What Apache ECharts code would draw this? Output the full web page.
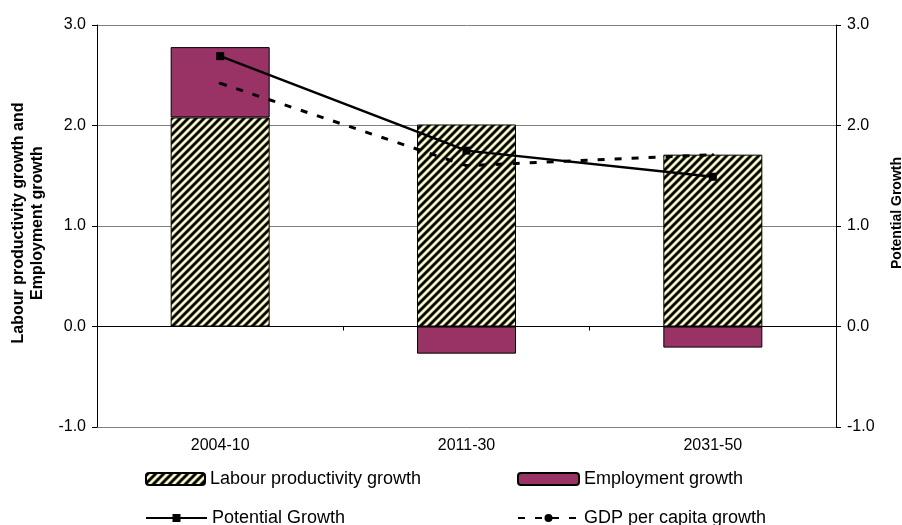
<!DOCTYPE html>
<html>
<head>
<meta charset="utf-8">
<script src="https://cdn.jsdelivr.net/npm/echarts@6/dist/echarts.min.js"></script>
<style>
  html, body { margin: 0; padding: 0; background: #fff; }
  #chart { width: 902px; height: 525px; }
</style>
</head>
<body>
<div id="chart"></div>
<script>
// Periods on the category axis
const periods = ['2004-10', '2011-30', '2031-50'];

// Stacked bar components (left axis, % per year)
const labourProductivity = [2.08, 2.01, 1.71];
const employment = [0.70, -0.27, -0.21];

// Line series (right axis, % per year)
const potentialGrowth = [2.69, 1.75, 1.49];
const gdpPerCapita = [2.42, 1.60, 1.71];

// Shared value-axis ticks
const axisMin = -1;
const axisMax = 3;
const axisStep = 1;

const FONT = "'Liberation Sans', Arial, sans-serif";

// Diagonal black-on-cream hatching for the productivity bars
function makeHatch() {
  const size = 8;
  // shade per diagonal step: black band with soft edges, then cream band
  const shades = [
    [50, 50, 40], [0, 0, 0], [0, 0, 0], [50, 50, 40],
    [190, 190, 150], [255, 255, 204], [255, 255, 204], [190, 190, 150]
  ];
  const c = document.createElement('canvas');
  c.width = size; c.height = size;
  const ctx = c.getContext('2d');
  const img = ctx.createImageData(size, size);
  for (let y = 0; y < size; y++) {
    for (let x = 0; x < size; x++) {
      const s = shades[(x + y) % size];
      const i = (y * size + x) * 4;
      img.data[i] = s[0]; img.data[i + 1] = s[1]; img.data[i + 2] = s[2]; img.data[i + 3] = 255;
    }
  }
  ctx.putImageData(img, 0, 0);
  return { image: c, repeat: 'repeat' };
}
const hatch = makeHatch();

const chart = echarts.init(document.getElementById('chart'), null, { renderer: 'canvas' });

const legendBase = {
  orient: 'horizontal',
  padding: 0,
  itemGap: 0,
  textStyle: { fontFamily: FONT, fontSize: 18, color: '#000' }
};

const option = {
  animation: false,
  backgroundColor: '#fff',
  grid: { left: 97, right: 66, top: 25, bottom: 98, outerBoundsMode: 'none' },
  legend: [
    Object.assign({}, legendBase, { data: ['Labour productivity growth'], left: 145, top: 470, itemWidth: 59, itemHeight: 12 }),
    Object.assign({}, legendBase, { data: ['Employment growth'], left: 517, top: 470, itemWidth: 61, itemHeight: 12 }),
    Object.assign({}, legendBase, { data: ['Potential Growth'], left: 145, top: 509, itemWidth: 61, itemHeight: 10 }),
    Object.assign({}, legendBase, { data: ['GDP per capita growth'], left: 517, top: 509, itemWidth: 61, itemHeight: 10 })
  ],
  xAxis: [
    {
      type: 'category',
      data: periods,
      position: 'bottom',
      axisLine: { show: false, onZero: false },
      axisTick: { show: false },
      axisLabel: { fontFamily: FONT, fontSize: 16, color: '#000', margin: 11 }
    },
    {
      type: 'category',
      data: periods,
      position: 'bottom',
      axisLine: { show: true, onZero: true, lineStyle: { color: '#000', width: 1 } },
      axisTick: { show: true, length: 4, lineStyle: { color: '#000' } },
      axisLabel: { show: false },
      splitLine: { show: false }
    }
  ],
  yAxis: [
    {
      type: 'value',
      min: axisMin, max: axisMax, interval: axisStep,
      position: 'left',
      name: 'Labour productivity growth and\nEmployment growth',
      nameLocation: 'middle',
      nameGap: 50,
      nameRotate: 90,
      nameTextStyle: { fontFamily: FONT, fontSize: 16, fontWeight: 'bold', color: '#000', lineHeight: 19, padding: [0, 0, 0, 6] },
      axisLine: { show: true, lineStyle: { color: '#000', width: 1 } },
      axisTick: { show: true, length: 5, lineStyle: { color: '#000' } },
      axisLabel: { fontFamily: FONT, fontSize: 16, color: '#000', margin: 11, formatter: v => v.toFixed(1) },
      splitLine: { show: true, lineStyle: { color: '#808080', width: 1 } }
    },
    {
      type: 'value',
      min: axisMin, max: axisMax, interval: axisStep,
      position: 'right',
      name: 'Potential Growth',
      nameLocation: 'middle',
      nameGap: 54,
      nameRotate: 90,
      nameTextStyle: { fontFamily: FONT, fontSize: 14, fontWeight: 'bold', color: '#000', padding: [0, 0, 0, 26] },
      axisLine: { show: true, lineStyle: { color: '#000', width: 1 } },
      axisTick: { show: true, length: 5, lineStyle: { color: '#000' } },
      axisLabel: { fontFamily: FONT, fontSize: 16, color: '#000', margin: 11, formatter: v => v.toFixed(1) },
      splitLine: { show: false }
    }
  ],
  series: [
    {
      name: 'Labour productivity growth',
      type: 'bar',
      stack: 'growth',
      xAxisIndex: 0, yAxisIndex: 0,
      barWidth: 99,
      data: labourProductivity,
      itemStyle: { color: hatch, borderColor: '#000', borderWidth: 1 }
    },
    {
      name: 'Employment growth',
      type: 'bar',
      stack: 'growth',
      xAxisIndex: 0, yAxisIndex: 0,
      barWidth: 99,
      data: employment,
      itemStyle: { color: '#993366', borderColor: '#000', borderWidth: 1 }
    },
    {
      name: 'Potential Growth',
      type: 'line',
      xAxisIndex: 0, yAxisIndex: 1,
      data: potentialGrowth,
      symbol: 'rect',
      symbolSize: 8,
      itemStyle: { color: '#000' },
      lineStyle: { color: '#000', width: 2.5 },
      z: 5
    },
    {
      name: 'GDP per capita growth',
      type: 'line',
      xAxisIndex: 0, yAxisIndex: 1,
      data: gdpPerCapita,
      symbol: 'circle',
      symbolSize: 3,
      itemStyle: { color: '#000' },
      lineStyle: { color: '#000', width: 3, type: [7, 10] },
      z: 4
    }
  ]
};

chart.setOption(option);
</script>
</body>
</html>
